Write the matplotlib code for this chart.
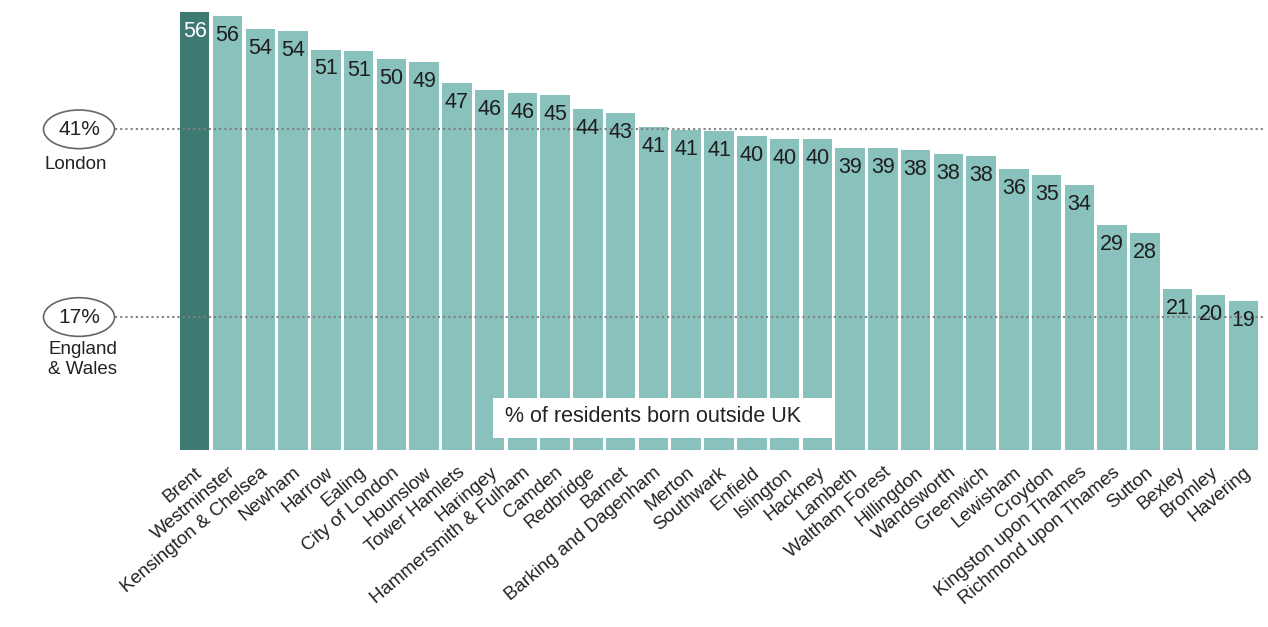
import matplotlib
matplotlib.use("Agg")
import matplotlib.pyplot as plt
from matplotlib.patches import Rectangle

boroughs = ["Brent", "Westminster", "Kensington & Chelsea", "Newham", "Harrow", "Ealing",
            "City of London", "Hounslow", "Tower Hamlets", "Haringey", "Hammersmith & Fulham",
            "Camden", "Redbridge", "Barnet", "Barking and Dagenham", "Merton", "Southwark",
            "Enfield", "Islington", "Hackney", "Lambeth", "Waltham Forest", "Hillingdon",
            "Wandsworth", "Greenwich", "Lewisham", "Croydon", "Kingston upon Thames",
            "Richmond upon Thames", "Sutton", "Bexley", "Bromley", "Havering"]
values = [56, 56, 54, 54, 51, 51, 50, 49, 47, 46, 46, 45, 44, 43, 41, 41, 41,
          40, 40, 40, 39, 39, 38, 38, 38, 36, 35, 34, 29, 28, 21, 20, 19]
bar_heights = [56.0, 55.5, 53.8, 53.6, 51.2, 51.0, 50.0, 49.6, 46.9, 46.0, 45.7, 45.4,
               43.6, 43.1, 41.3, 40.9, 40.8, 40.2, 39.8, 39.7, 38.6, 38.6, 38.4, 37.8,
               37.6, 35.9, 35.2, 33.9, 28.8, 27.7, 20.6, 19.8, 19.1]
ref_values = [41, 17]
ref_names = ["London", "England\n& Wales"]
legend_text = "% of residents born outside UK"

plt.rcParams['font.family'] = ['Liberation Sans', 'DejaVu Sans']

W, H = 1268, 627
fig = plt.figure(figsize=(W / 100, H / 100), dpi=100)
ax = fig.add_axes([180 / W, 1 - 450 / H, (1258 - 180) / W, (450 - 12) / H])

dark = "#3f7a72"
light = "#89c1bd"
colors = [dark] + [light] * (len(values) - 1)
x = list(range(len(values)))
bw = 0.9
ax.bar(x, bar_heights, width=bw, color=colors, edgecolor="none", zorder=2)
ax.set_xlim(-bw / 2, len(values) - 1 + bw / 2)
ax.set_ylim(0, 56)

for i, (h, v) in enumerate(zip(bar_heights, values)):
    ax.annotate(str(v), (i, h), xytext=(0, -14), textcoords="offset points",
                ha="center", va="center", fontsize=15.5,
                color="white" if i == 0 else "#1e1e1e", zorder=4)

# reference lines
ytr = ax.get_yaxis_transform()
x0 = (115 - 180) / (1258 - 180)
x1 = (1266 - 180) / (1258 - 180)
for rv, name in zip(ref_values, ref_names):
    ax.plot([x0, x1], [rv, rv], transform=ytr, clip_on=False, color="#808080",
            linestyle=(0, (1, 1.5)), linewidth=1.5, zorder=3)
    ax.text((79 - 180) / 1078, rv, f"{rv}%", transform=ytr, ha="center", va="center",
            fontsize=15, color="#222222", zorder=5,
            bbox=dict(boxstyle="ellipse,pad=0.2", fc="white", ec="#666666", lw=1.2))

ax.text((44 - 180) / 1078, 41 - 4.5, ref_names[0], transform=ytr, ha="left", va="center",
        fontsize=13.5, color="#222222")
ax.text((48 - 180) / 1078, 17 - 3.0, ref_names[1], transform=ytr, ha="left", va="top",
        fontsize=13.5, color="#222222", linespacing=1.3)

# legend box
ax.add_patch(Rectangle(((493 - 180) / 1078, 1.55), (835 - 493) / 1078, 5.1,
                       transform=ytr, facecolor="white", edgecolor="none", zorder=4,
                       clip_on=False))
ax.text((505 - 180) / 1078, 4.3, legend_text, transform=ytr, ha="left", va="center",
        fontsize=15.5, color="#222222", zorder=5)

ax.set_xticks(x)
ax.set_xticklabels(boroughs, rotation=40, ha="right", rotation_mode="anchor",
                   fontsize=13.5, color="#222222")
ax.tick_params(axis="x", length=0, pad=10)
ax.set_yticks([])
for s in ax.spines.values():
    s.set_visible(False)

fig.savefig("out.png", dpi=100)
